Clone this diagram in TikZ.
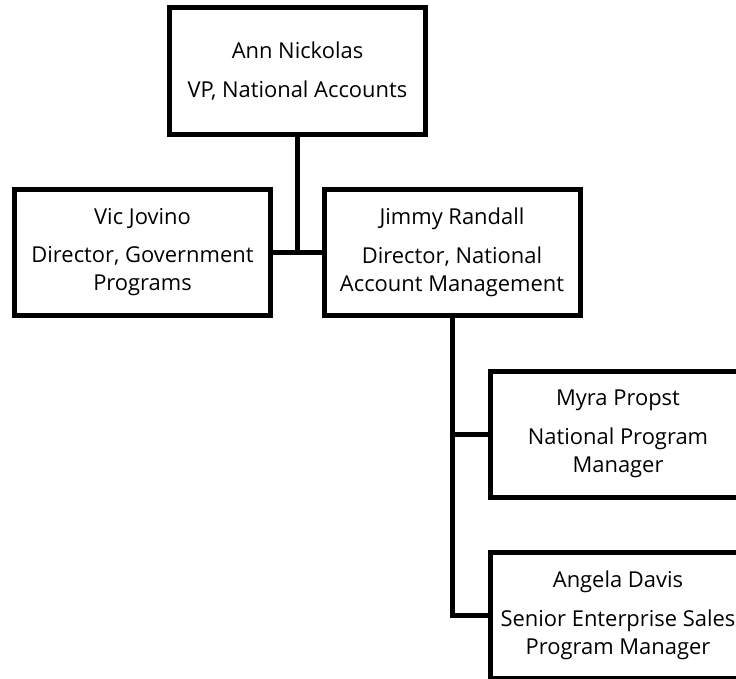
\documentclass[tikz,border=0pt]{standalone}
\usepackage{fontspec}
\setmainfont{Open Sans}
\begin{document}
\begin{tikzpicture}[x=1bp,y=-1bp,line join=miter,
  person/.style={draw,line width=5bp,minimum width=256bp,minimum height=126bp,
    align=center,inner sep=0pt,font=\fontsize{22}{28}\selectfont},
  link/.style={line width=5bp}]
  \useasboundingbox (0,0) rectangle (736,679);
  \clip (0,0) rectangle (736,679);
%%
  % Node: ann
  \node[person] (ann) at (297.5,71) {Ann Nickolas\\[11bp]VP, National Accounts};
  % Node: vic
  \node[person] (vic) at (142.5,252) {Vic Jovino\\[11bp]Director, Government\\Programs};
  % Node: jimmy
  \node[person] (jimmy) at (452,252) {Jimmy Randall\\[11bp]Director, National\\Account Management};
  % Node: myra
  \node[person] (myra) at (618,434) {Myra Propst\\[11bp]National Program\\Manager};
  % Node: angela
  \node[person] (angela) at (618,615) {Angela Davis\\[11bp]Senior Enterprise Sales\\Program Manager};
%
  % Edge: ann -> vic, jimmy
  \draw[link] (ann.south) -- (ann.south |- vic.east);
  \draw[link] (vic.east) -- (jimmy.west);
  % Edge: jimmy -> myra, angela
  \draw[link] (jimmy.south) |- (angela.west);
  \draw[link] (jimmy.south |- myra.west) -- (myra.west);
%
\end{tikzpicture}
\end{document}
